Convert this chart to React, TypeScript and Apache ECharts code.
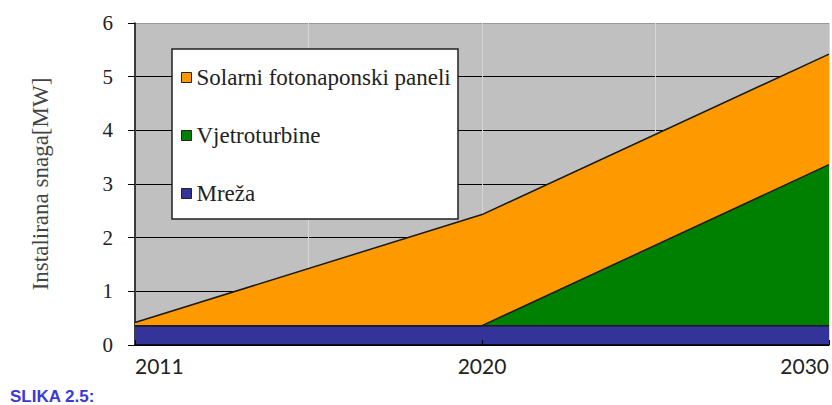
import React, { useEffect, useRef } from "react";
import * as echarts from "echarts";

const years = ["2011", "2020", "2030"];
const seriesNames = ["Mreža", "Vjetroturbine", "Solarni fotonaponski paneli"];
const mreza = [0.36, 0.36, 0.36];
const vjetro = [0, 0, 3.0];
const solar = [0.06, 2.07, 2.06];
const legendOrder = ["Solarni fotonaponski paneli", "Vjetroturbine", "Mreža"];
const colors = ["#333399", "#008000", "#FF9900"];
const quarterCats = ["q1", "q2", "q3", "q4"];

const SERIF = "'Liberation Serif', 'Times New Roman', serif";

export default function App() {
  const ref = useRef<HTMLDivElement>(null);
  useEffect(() => {
    if (!ref.current) return;
    const chart = echarts.init(ref.current, null, { renderer: "svg" });
    const values = [mreza, vjetro, solar];
    chart.setOption({
      animation: false,
      backgroundColor: "#ffffff",
      grid: {
        left: 135,
        right: 3,
        top: 23,
        bottom: 60,
        show: true,
        backgroundColor: "#C0C0C0",
        borderWidth: 0,
      },
      legend: {
        data: legendOrder,
        orient: "vertical",
        left: 181,
        top: 66,
        padding: 0,
        itemGap: 35,
        icon: "rect",
        itemWidth: 10,
        itemHeight: 10,
        itemStyle: { borderColor: "#222", borderWidth: 1 },
        textStyle: {
          fontFamily: SERIF,
          fontSize: 23,
          lineHeight: 23,
          color: "#222",
        },
        z: 5,
      },
      graphic: [
        {
          type: "rect",
          z: 4,
          shape: { x: 172, y: 49, width: 286, height: 170 },
          style: { fill: "#ffffff", stroke: "#222", lineWidth: 1.5 },
        },
        {
          type: "text",
          left: 10,
          top: 388,
          style: {
            text: "SLIKA 2.5:",
            fill: "#3a3ad8",
            font: "bold 17px 'Liberation Sans', Arial, sans-serif",
          },
        },
      ],
      xAxis: [
        {
          type: "category",
          data: years,
          boundaryGap: false,
          axisLine: { show: true, lineStyle: { color: "#000", width: 1.5 } },
          axisTick: { show: true, inside: true, length: 5, lineStyle: { color: "#000" } },
          axisLabel: {
            fontFamily: "Lato, sans-serif",
            fontSize: 21,
            color: "#222",
            margin: 10,
            alignMinLabel: "left",
            alignMaxLabel: "right",
          },
          splitLine: { show: false },
          z: 3,
        },
        {
          type: "category",
          data: quarterCats,
          boundaryGap: true,
          position: "top",
          axisLine: { show: false },
          axisTick: { show: false },
          axisLabel: { show: false },
          splitLine: { show: true, lineStyle: { color: "#d6d6d6", width: 1 } },
        },
      ],
      yAxis: {
        type: "value",
        min: 0,
        max: 6,
        interval: 1,
        name: "Instalirana snaga[MW]",
        nameLocation: "middle",
        nameGap: 83,
        nameTextStyle: {
          fontFamily: SERIF,
          fontSize: 23,
          color: "#444",
        },
        axisLine: { show: true, lineStyle: { color: "#000", width: 1.5 } },
        axisTick: { show: true, inside: false, length: 7, lineStyle: { color: "#000" } },
        axisLabel: {
          fontFamily: SERIF,
          fontSize: 21,
          color: "#222",
          margin: 22,
        },
        splitLine: {
          show: true,
          lineStyle: {
            color: ["#000", "#000", "#000", "#000", "#000", "#000", "#999"],
            width: 1.2,
          },
        },
      },
      series: seriesNames.map((name, i) => ({
        name,
        type: "line",
        stack: "total",
        data: values[i],
        showSymbol: false,
        symbol: "none",
        color: colors[i],
        itemStyle: { color: colors[i] },
        lineStyle: { color: "#1a1a1a", width: 1.5 },
        areaStyle: { color: colors[i], opacity: 1 },
        z: 2,
      })),
    });
    return () => chart.dispose();
  }, []);
  return (
    <div
      ref={ref}
      style={{ position: "absolute", left: 0, top: 0, width: 832, height: 405 }}
    />
  );
}
